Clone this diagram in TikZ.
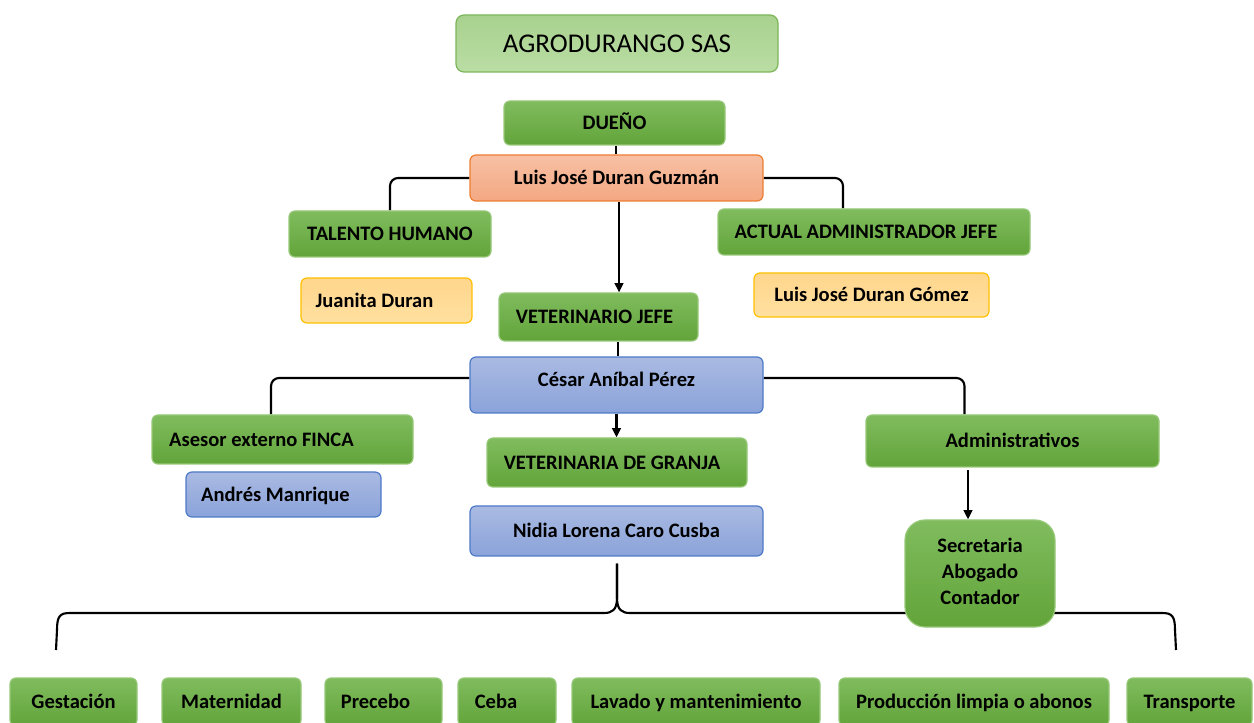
\documentclass[tikz,border=0pt]{standalone}
\usepackage{fontspec}
\setmainfont{Carlito}
\usetikzlibrary{arrows.meta,backgrounds}
\definecolor{gtop}{RGB}{128,188,94}
\definecolor{gbot}{RGB}{98,164,58}
\definecolor{gdraw}{RGB}{150,200,120}
\definecolor{ttop}{RGB}{168,209,142}
\definecolor{tbot}{RGB}{186,221,164}
\definecolor{tdraw}{RGB}{125,182,90}
\definecolor{stop}{RGB}{247,192,164}
\definecolor{sbot}{RGB}{244,168,130}
\definecolor{sdraw}{RGB}{237,125,49}
\definecolor{btop}{RGB}{170,186,226}
\definecolor{bbot}{RGB}{138,163,218}
\definecolor{bdraw}{RGB}{78,122,200}
\definecolor{ytop}{RGB}{255,214,140}
\definecolor{ybot}{RGB}{255,224,160}
\definecolor{ydraw}{RGB}{255,192,0}
\newcommand\lsh[2]{#2\kern#1}
\begin{document}
\begin{tikzpicture}[x=0.75pt,y=-0.75pt,
  bx/.style n args={4}{at={({(#1+#3)/2},{(#2+#4)/2})},
    minimum width={(#3-#1)*0.75pt}, minimum height={(#4-#2)*0.75pt}},
  boxm/.style={rounded corners=4.5pt, inner sep=0pt, line width=0.9pt,
    font=\bfseries\fontsize{15.4}{19.5}\selectfont},
  box/.style={boxm, text height=9.9pt, text depth=0pt},
  gcol/.style={draw=gdraw, top color=gtop, bottom color=gbot},
  gbox/.style={box, gcol},
  tbox/.style={box, draw=tdraw, top color=ttop, bottom color=tbot},
  sbox/.style={box, draw=sdraw, top color=stop, bottom color=sbot},
  bbox/.style={box, draw=bdraw, top color=btop, bottom color=bbot},
  ybox/.style={box, draw=ydraw, top color=ytop, bottom color=ybot},
  conn/.style={draw=black, line width=1.6pt, rounded corners=6pt},
  arr/.style={conn, -{Triangle[length=7pt,width=6.5pt]}},
  brace/.style={draw=black, line width=1.6pt, line join=round},
]
% title
\node[tbox, rounded corners=6pt, bx={456}{15}{778}{72}, font=\fontsize{20.3}{24}\selectfont, text height=13pt] (title) {AGRODURANGO SAS};
% owner
\node[gbox, bx={504}{101}{725}{145}] (dueno) {DUEÑO};
\node[sbox, bx={470}{155}{763}{201}] (luis) {Luis José Duran Guzmán};
\node[gbox, bx={289}{211}{491}{257}] (talento) {TALENTO HUMANO};
\node[gbox, bx={718}{209}{1030}{255}] (actual) {\lsh{12pt}{ACTUAL ADMINISTRADOR JEFE}};
\node[ybox, bx={301}{278}{472}{323}] (juanita) {\lsh{18pt}{Juanita Duran}};
\node[ybox, bx={754}{273}{989}{317}] (gomez) {Luis José Duran Gómez};
\node[gbox, bx={499}{293}{698}{341}] (vetjefe) {\lsh{6pt}{VETERINARIO JEFE}};
\node[bbox, bx={470}{357}{763}{413}, text depth=7.5pt] (cesar) {César Aníbal Pérez};
\node[gbox, bx={152}{415}{413}{464}] (asesor) {\lsh{31.5pt}{Asesor externo FINCA}};
\node[bbox, bx={186}{472}{381}{517}] (andres) {\lsh{12pt}{Andrés Manrique}};
\node[gbox, bx={487}{438}{747}{487}] (vetgranja) {\lsh{7.5pt}{VETERINARIA DE GRANJA}};
\node[bbox, bx={470}{506}{763}{556}] (nidia) {Nidia Lorena Caro Cusba};
\node[gbox, bx={866}{415}{1159}{467}] (admin) {Administrativos};
\node[boxm, gcol, rounded corners=15pt, bx={905}{520}{1055}{627}] (secretaria) {\begin{tabular}{@{}c@{}}Secretaria\\Abogado\\Contador\end{tabular}};
% bottom row
\node[gbox, bx={10}{678}{137}{726}] (gestacion) {Gestación};
\node[gbox, bx={162}{678}{301}{726}] (maternidad) {Maternidad};
\node[gbox, bx={325}{678}{442}{726}] (precebo) {\lsh{12pt}{Precebo}};
\node[gbox, bx={458}{678}{556}{726}] (ceba) {\lsh{16.5pt}{Ceba}};
\node[gbox, bx={572}{678}{820}{726}] (lavado) {Lavado y mantenimiento};
\node[gbox, bx={839}{678}{1109}{726}] (produccion) {Producción limpia o abonos};
\node[gbox, bx={1127}{678}{1252}{726}] (transporte) {Transporte};

\begin{pgfonlayer}{background}
\coordinate (a0) at ([xshift=1.1pt]dueno.south);
\draw[conn] (a0) -- (a0 |- luis.north);
\draw[conn] (luis.west) -| (talento.north);
\draw[conn] (luis.east) -| ([xshift=-23.25pt]actual.north);
\coordinate (a1) at ([xshift=1.9pt]luis.south);
\draw[arr] (a1) -- (a1 |- vetjefe.north);
\coordinate (a2) at ([xshift=1.1pt]cesar.north);
\draw[conn] (a2 |- vetjefe.south) -- (a2);
\coordinate (c1) at ([yshift=5.25pt]cesar.west);
\coordinate (c2) at ([yshift=5.25pt]cesar.east);
\draw[conn] (c1) -| ([xshift=-8.6pt]asesor.north);
\draw[conn] (c2) -| ([xshift=-36pt]admin.north);
\draw[arr] (cesar.south) -- (cesar.south |- vetgranja.north);
\coordinate (a3) at ([xshift=-9pt]secretaria.north);
\draw[arr] ([yshift=-2pt]a3 |- admin.south) -- (a3);
% brace
\coordinate (bt) at ([xshift=0.4pt,yshift=-5.25pt]nidia.south);
\coordinate (bl) at (56,650);
\coordinate (br) at (1176,650);
\draw[brace] (bl) -- (57,630) .. controls (57,616) and (60,613) .. (70,613) -- (604,613)
  .. controls (612,613) and (617,610) .. (617,598) -- (bt);
\draw[brace] (bt) -- (617,598) .. controls (617,610) and (622,613) .. (630,613) -- (1162,613)
  .. controls (1172,613) and (1175,616) .. (1175,630) -- (br);
\end{pgfonlayer}
\pgfresetboundingbox
\useasboundingbox (0,0) rectangle (1254,723);
\end{tikzpicture}
\end{document}
